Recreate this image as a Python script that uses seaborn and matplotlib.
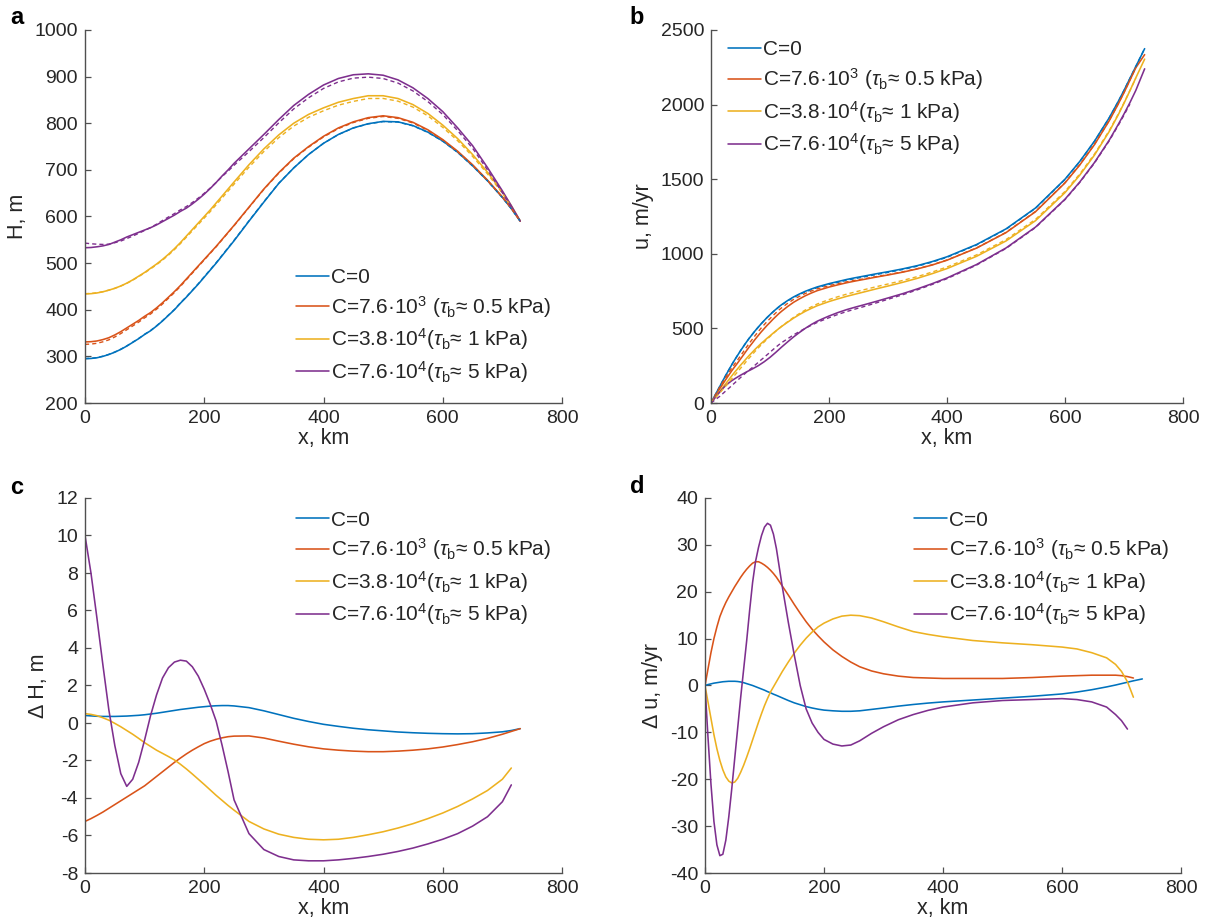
import numpy as np
import pandas as pd
import matplotlib
matplotlib.use("Agg")
import matplotlib.pyplot as plt
import seaborn as sns

nan = np.nan

# ---------------- data: panels a and c (x grid in km) ----------------
x_ac = [0, 10, 20, 30, 40, 50, 60, 70, 80, 90, 100, 110, 120, 130, 140, 150, 160, 170, 180, 190,
        200, 210, 220, 230, 240, 250, 275, 300, 325, 350, 375, 400, 425, 450, 475, 500, 525, 550,
        575, 600, 625, 650, 675, 700, 715, 730]

H_c0 = [295, 295.5, 297, 300, 304, 309, 315, 322, 330, 338, 347, 355, 365, 376, 388, 400, 414, 427, 441, 455,
        470, 485, 500, 516, 532, 548, 590, 631, 671, 704, 733, 757, 776, 790, 799, 804, 803, 795,
        781, 762, 738, 709, 677, 641, 617, 590]
H_c1 = [331, 331.5, 333, 336, 340, 346, 353, 361, 369, 377, 386, 394, 404, 415, 427, 439, 452, 466, 480, 494,
        508, 522, 536, 551, 566, 581, 620, 659, 694, 725, 750, 772, 790, 803, 812, 816, 812, 802,
        786, 765, 740, 711, 678, 642, 618, 590]
H_c2 = [434, 434.5, 436, 438.5, 442, 446, 451, 457, 464, 472, 480, 489, 498, 508, 519, 531, 544, 558, 572, 586,
        600, 614, 629, 644, 659, 674, 711, 745, 775, 800, 819, 833, 845, 853, 859, 859, 853, 840,
        821, 796, 767, 733, 695, 653, 623, 590]
H_c3 = [533, 533.5, 535, 537, 540, 545, 550, 556, 561, 566, 571, 576, 582, 589, 596, 603, 611, 618, 627, 637,
        648, 660, 673, 687, 700, 714, 745, 776, 808, 838, 862, 882, 896, 904, 906, 903, 893, 876,
        853, 825, 790, 752, 705, 655, 623, 590]

dH_c0 = [0.4, 0.38, 0.36, 0.35, 0.35, 0.35, 0.36, 0.37, 0.39, 0.41, 0.44, 0.48, 0.52, 0.57, 0.62, 0.67, 0.72,
         0.76, 0.8, 0.84, 0.87, 0.9, 0.92, 0.93, 0.93, 0.91, 0.82, 0.65, 0.45, 0.25, 0.08, -0.07, -0.18,
         -0.28, -0.36, -0.42, -0.48, -0.52, -0.55, -0.57, -0.58, -0.57, -0.53, -0.47, -0.4, -0.3]
dH_c1 = [-5.25, -5.1, -4.93, -4.75, -4.55, -4.35, -4.15, -3.95, -3.75, -3.55, -3.35, -3.1, -2.85, -2.6, -2.35,
         -2.1, -1.87, -1.65, -1.45, -1.27, -1.1, -0.97, -0.87, -0.79, -0.73, -0.7, -0.69, -0.8, -0.97,
         -1.13, -1.27, -1.38, -1.45, -1.5, -1.53, -1.53, -1.5, -1.45, -1.38, -1.28, -1.15, -1.0, -0.82,
         -0.6, -0.45, -0.3]
dH_c2 = [0.5, 0.46, 0.39, 0.28, 0.15, -0.02, -0.2, -0.4, -0.6, -0.82, -1.05, -1.25, -1.45, -1.62, -1.79,
         -1.97, -2.2, -2.45, -2.72, -3.0, -3.28, -3.57, -3.86, -4.13, -4.4, -4.65, -5.25, -5.65, -5.93,
         -6.1, -6.2, -6.23, -6.2, -6.1, -5.96, -5.8, -5.6, -5.37, -5.1, -4.8, -4.45, -4.05, -3.6, -3.0,
         -2.4, nan]
dH_c3 = [10.0, 8.0, 5.6, 3.1, 0.7, -1.2, -2.7, -3.38, -3.0, -2.1, -0.9, 0.4, 1.5, 2.4, 2.95, 3.25, 3.35,
         3.3, 3.0, 2.5, 1.8, 1.0, 0.1, -1.2, -2.6, -4.1, -5.9, -6.75, -7.12, -7.3, -7.35, -7.35, -7.3,
         -7.22, -7.12, -7.0, -6.85, -6.67, -6.45, -6.2, -5.9, -5.5, -5.0, -4.2, -3.3, nan]

# ---------------- data: panels b and d ----------------
x_bd = [0, 5, 10, 15, 20, 25, 30, 35, 40, 45, 50, 55, 60, 65, 70, 75, 80, 85, 90, 95, 100, 105, 110, 115,
        120, 130, 140, 150, 160, 170, 180, 190, 200, 215, 230, 245, 260, 280, 300, 325, 350, 375, 400,
        450, 500, 550, 600, 625, 650, 675, 690, 700, 710, 720, 735]

u_c0 = [0, 38, 75, 112, 149, 185, 220, 255, 288, 319, 350, 379, 408, 435, 460, 485, 508, 531, 552, 573,
        592, 611, 628, 645, 660, 687, 711, 731, 749, 764, 778, 789, 800, 814, 828, 840, 851, 866, 880,
        899, 921, 948, 980, 1062, 1167, 1307, 1500, 1619, 1755, 1912, 2019, 2095, 2175, 2255, 2375]
u_c1 = [0, 33, 65, 97, 127, 157, 186, 215, 242, 268, 295, 322, 350, 377, 402, 428, 452, 476, 498, 520,
        540, 561, 580, 599, 616, 647, 675, 698, 719, 737, 753, 765, 777, 792, 806, 818, 829, 844, 858,
        877, 899, 925, 957, 1038, 1142, 1282, 1475, 1595, 1732, 1892, 2002, 2080, 2163, 2247, 2335]
u_c2 = [0, 27, 53, 79, 105, 130, 155, 181, 206, 229, 253, 275, 298, 320, 340, 361, 380, 399, 416, 434,
        450, 467, 483, 499, 514, 542, 569, 593, 615, 634, 652, 666, 680, 698, 715, 730, 745, 765, 784,
        809, 836, 867, 901, 983, 1086, 1222, 1410, 1527, 1662, 1820, 1930, 2009, 2093, 2179, 2305]
u_c3 = [0, 26, 51, 74, 97, 117, 134, 149, 162, 174, 186, 197, 208, 218, 228, 239, 250, 263, 276, 291,
        306, 323, 340, 358, 376, 410, 443, 473, 501, 526, 548, 566, 583, 606, 626, 643, 659, 681, 704,
        733, 765, 800, 838, 928, 1039, 1179, 1366, 1481, 1612, 1762, 1865, 1937, 2013, 2095, 2240]

du_c0 = [0, 0.2, 0.35, 0.5, 0.6, 0.7, 0.8, 0.85, 0.9, 0.9, 0.9, 0.85, 0.75, 0.6, 0.4, 0.2, 0, -0.25, -0.5,
         -0.75, -1.0, -1.3, -1.55, -1.85, -2.1, -2.65, -3.2, -3.7, -4.1, -4.5, -4.8, -5.05, -5.25, -5.4,
         -5.5, -5.5, -5.4, -5.1, -4.8, -4.4, -4.05, -3.75, -3.5, -3.1, -2.7, -2.3, -1.8, -1.4, -0.9, -0.3,
         0.1, 0.4, 0.7, 1.0, 1.4]
du_c1 = [0, 3.5, 7, 10, 12.5, 14.7, 16.3, 17.7, 18.9, 20, 21.1, 22.1, 23.1, 24, 24.8, 25.5, 26.1, 26.4,
         26.4, 26.1, 25.7, 25.2, 24.6, 23.9, 23.1, 21.2, 19.3, 17.3, 15.4, 13.6, 12.0, 10.6, 9.3, 7.6,
         6.2, 5.0, 4.0, 3.1, 2.5, 2.0, 1.7, 1.6, 1.5, 1.5, 1.5, 1.7, 2.0, 2.1, 2.2, 2.2, 2.2, 2.1, 1.9,
         1.6, nan]
du_c2 = [0, -3.5, -7, -10.5, -13.5, -16, -18, -19.5, -20.4, -20.8, -20.6, -19.8, -18.5, -17, -15.3, -13.5,
         -11.6, -9.7, -7.8, -6, -4.3, -2.8, -1.4, -0.3, 0.8, 3.0, 5.0, 6.9, 8.6, 10.1, 11.4, 12.5, 13.3,
         14.2, 14.8, 15.0, 14.9, 14.4, 13.6, 12.5, 11.5, 10.9, 10.4, 9.6, 9.1, 8.7, 8.2, 7.8, 7.0, 5.9,
         4.5, 3.0, 0.8, -2.5, nan]
du_c3 = [0, -11, -21, -29, -34, -36.3, -36, -33, -28, -22, -15.5, -9, -2.5, 3.5, 9.5, 16, 22, 26.5, 29.5,
         32, 33.8, 34.6, 34.2, 32.3, 29.2, 21, 13.5, 6.5, 0, -5, -8, -10, -11.5, -12.5, -12.9, -12.7,
         -11.8, -10.2, -8.8, -7.3, -6.2, -5.3, -4.6, -3.7, -3.2, -3.0, -2.8, -3.0, -3.5, -4.6, -6.2,
         -7.5, -9.3, nan, nan]

series_labels = [
    "C=0",
    "C=7.6·10$^{3}$ ($\\tau_\\mathrm{b}$≈ 0.5 kPa)",
    "C=3.8·10$^{4}$($\\tau_\\mathrm{b}$≈ 1 kPa)",
    "C=7.6·10$^{4}$($\\tau_\\mathrm{b}$≈ 5 kPa)",
]
colors = ["#0072BD", "#D95319", "#EDB120", "#7E2F8E"]

x_ticks = [0, 200, 400, 600, 800]

# ---------------- style ----------------
sns.set_theme(style="ticks")
plt.rcParams.update({
    "font.family": ["Liberation Sans", "DejaVu Sans"],
    "mathtext.fontset": "custom",
    "mathtext.rm": "Liberation Sans",
    "mathtext.it": "Liberation Sans:italic",
    "mathtext.bf": "Liberation Sans:bold",
    "axes.unicode_minus": False,
    "lines.dashed_pattern": [3.0, 2.2],
})
TXT = "#262626"
SPINE = "#505050"

W, Hh = 1207, 921
fig = plt.figure(figsize=(W / 100, Hh / 100), dpi=100)


def rect(l, r, t, b):
    return [l / W, 1 - b / Hh, (r - l) / W, (b - t) / Hh]


ax_a = fig.add_axes(rect(85, 562, 30, 403))
ax_b = fig.add_axes(rect(711, 1183, 30, 403))
ax_c = fig.add_axes(rect(85, 562, 498, 873))
ax_d = fig.add_axes(rect(705, 1181, 498, 873))


def draw(ax, x, ys, dys, dashed, ylim, yticks, ylabel, leg_xy):
    for y, c, lab in zip(ys, colors, series_labels):
        sns.lineplot(x=x, y=y, color=c, lw=1.15, ax=ax, label=lab,
                     sort=False, estimator=None)
    if dashed:
        for y, dy, c in zip(ys, dys, colors):
            yd = np.array(y, dtype=float) + np.array(dy, dtype=float)
            sns.lineplot(x=x, y=yd, color=c, lw=1.0, linestyle="--", ax=ax,
                         sort=False, estimator=None, legend=False)
    ax.set_xlim(0, 800)
    ax.set_ylim(*ylim)
    ax.set_xticks(x_ticks)
    ax.set_yticks(yticks)
    ax.set_xlabel("x, km", fontsize=15.5, color=TXT, labelpad=1)
    ax.set_ylabel(ylabel, fontsize=15.5, color=TXT, labelpad=5)
    sns.despine(ax=ax)
    for s in ("left", "bottom"):
        ax.spines[s].set_color(SPINE)
        ax.spines[s].set_linewidth(1.0)
    ax.tick_params(direction="in", length=4, width=0.9, color=SPINE,
                   labelsize=14, labelcolor=TXT, pad=5)
    h, l = ax.get_legend_handles_labels()
    ax.legend(h[:4], l[:4], loc="upper left", bbox_to_anchor=leg_xy,
              frameon=False, fontsize=15, handlelength=1.6,
              handletextpad=0.1, labelspacing=0.32, borderpad=0,
              borderaxespad=0, labelcolor=TXT)


draw(ax_a, x_ac, [H_c0, H_c1, H_c2, H_c3], [dH_c0, dH_c1, dH_c2, dH_c3], True,
     (200, 1000), list(range(200, 1001, 100)), "H, m", (0.442, 0.362))
draw(ax_b, x_bd, [u_c0, u_c1, u_c2, u_c3], [du_c0, du_c1, du_c2, du_c3], True,
     (0, 2500), list(range(0, 2501, 500)), "u, m/yr", (0.036, 0.972))
draw(ax_c, x_ac, [dH_c0, dH_c1, dH_c2, dH_c3], None, False,
     (-8, 12), list(range(-8, 13, 2)), "Δ H, m", (0.442, 0.966))
draw(ax_d, x_bd, [du_c0, du_c1, du_c2, du_c3], None, False,
     (-40, 40), list(range(-40, 41, 10)), "Δ u, m/yr", (0.439, 0.966))

for letter, (px, py) in {"a": (10, 17), "b": (629, 17), "c": (10, 487), "d": (630, 486)}.items():
    fig.text(px / W, 1 - py / Hh, letter, fontsize=17, fontweight="bold",
             color="black", ha="left", va="center")

fig.savefig("out.png", dpi=100)
